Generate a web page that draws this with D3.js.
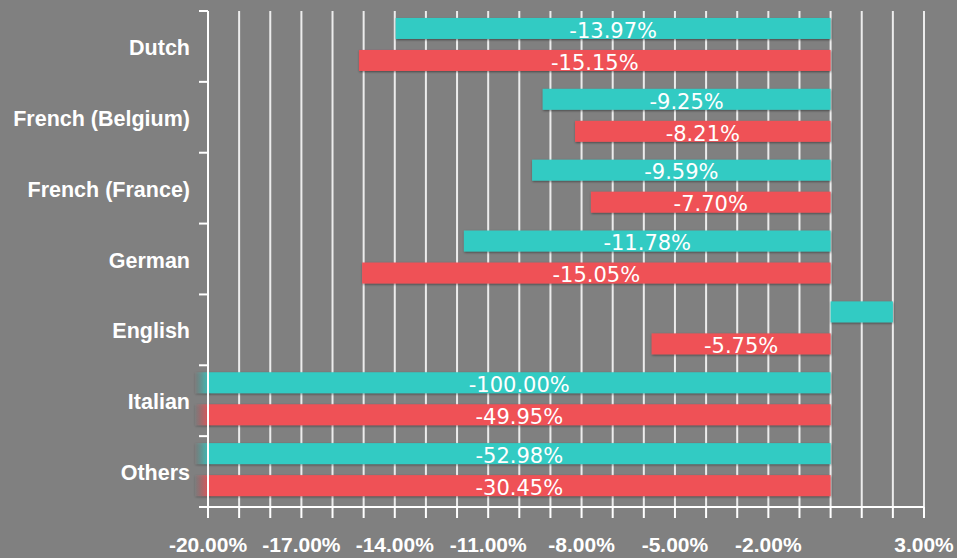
<!DOCTYPE html>
<html>
<head>
<meta charset="utf-8">
<script src="https://cdn.jsdelivr.net/npm/d3@7"></script>
<style>
  html, body { margin: 0; padding: 0; background: #808080; }
  svg { display: block; font-family: "Liberation Sans", Arial, sans-serif; }
</style>
</head>
<body>
<svg id="chart" width="957" height="558"></svg>
<script>
// data
let categories = ["Dutch", "French (Belgium)", "French (France)", "German", "English", "Italian", "Others"];
let series_teal = [-13.97, -9.25, -9.59, -11.78, 2.00, -100.00, -52.98];
let series_red = [-15.15, -8.21, -7.70, -15.05, -5.75, -49.95, -30.45];
let tick_values = [-20, -17, -14, -11, -8, -5, -2, 3];
let x_min = -20, x_max = 3;

let plot_left = 208, plot_right = 924, plot_top = 11, plot_bottom = 507;

let svg = d3.select('#chart');

// drop shadow for the bars
let defs = svg.append('defs');
let f = defs.append('filter').attr('id', 'shadow')
    .attr('x', '-10%').attr('y', '-30%').attr('width', '120%').attr('height', '160%');
f.append('feDropShadow').attr('dx', 0.5).attr('dy', 1).attr('stdDeviation', 1.2)
    .attr('flood-color', '#000').attr('flood-opacity', 0.45);

let colors = ['#33cbc3', '#ef5157'];
colors.forEach((c, i) => {
    let g = defs.append('linearGradient').attr('id', 'fade' + i);
    g.append('stop').attr('offset', '0%').attr('stop-color', '#808080').attr('stop-opacity', 0.6);
    g.append('stop').attr('offset', '100%').attr('stop-color', c).attr('stop-opacity', 0.9);
});

let x = d3.scaleLinear().domain([x_min, x_max]).range([plot_left, plot_right]);
let y = d3.scaleBand().domain(categories).range([plot_top, plot_bottom]).paddingInner(0).paddingOuter(0);
let y_inner = d3.scaleBand().domain([0, 1]).range([0, y.bandwidth()])
    .paddingInner(0.344).paddingOuter(0.279).align(0.39);

// grid lines every 1%
svg.append('g')
    .selectAll('line')
    .data(d3.range(x_min, x_max + 1))
    .join('line')
    .attr('x1', d => x(d)).attr('x2', d => x(d))
    .attr('y1', plot_top).attr('y2', plot_bottom)
    .attr('stroke', '#ececec')
    .attr('stroke-width', 2);

let rows = categories.map((c, i) => ({ cat: c, vals: [series_teal[i], series_red[i]] }));

let groups = svg.append('g')
    .selectAll('g')
    .data(rows)
    .join('g')
    .attr('transform', d => 'translate(0,' + y(d.cat) + ')');

groups.each(function (d) {
    let g = d3.select(this);
    d.vals.forEach((v, i) => {
        let vc = Math.max(x_min, Math.min(x_max, v));
        let x0 = x(Math.min(0, vc)), x1 = x(Math.max(0, vc));
        let yy = y_inner(i), h = y_inner.bandwidth();
        if (v < x_min) {
            // faded stub where the bar runs off the axis
            g.append('rect')
                .attr('x', x(x_min) - 13).attr('y', yy)
                .attr('width', 14).attr('height', h)
                .attr('fill', 'url(#fade' + i + ')')
                .attr('filter', 'url(#shadow)');
        }
        g.append('rect')
            .attr('x', x0).attr('y', yy)
            .attr('width', x1 - x0).attr('height', h)
            .attr('fill', colors[i])
            .attr('filter', 'url(#shadow)');
        if (v < 0) {
            g.append('text')
                .attr('x', (x0 + x1) / 2)
                .attr('y', yy + h / 2)
                .attr('dy', '0.44em')
                .attr('text-anchor', 'middle')
                .attr('fill', '#fff')
                .attr('font-family', '"DejaVu Sans", Verdana, sans-serif')
                .attr('font-size', '21px')
                .text(v.toFixed(2) + '%');
        }
    });
});

// y axis
let yAxis = svg.append('g');
yAxis.append('line')
    .attr('x1', plot_left).attr('x2', plot_left).attr('y1', plot_top).attr('y2', plot_bottom)
    .attr('stroke', '#fff').attr('stroke-width', 2);
yAxis.selectAll('line.tick')
    .data(categories.map(c => y(c)).concat([plot_bottom]))
    .join('line')
    .attr('class', 'tick')
    .attr('x1', plot_left - 9).attr('x2', plot_left)
    .attr('y1', d => d).attr('y2', d => d)
    .attr('stroke', '#fff').attr('stroke-width', 2);
yAxis.selectAll('text')
    .data(categories)
    .join('text')
    .attr('x', 190)
    .attr('y', d => y(d) + y.bandwidth() / 2)
    .attr('dy', '0.4em')
    .attr('text-anchor', 'end')
    .attr('fill', '#fff')
    .attr('font-weight', 'bold')
    .attr('font-size', '21.5px')
    .text(d => d);

// x axis
let xAxis = svg.append('g');
xAxis.append('line')
    .attr('x1', plot_left - 8).attr('x2', plot_right).attr('y1', plot_bottom).attr('y2', plot_bottom)
    .attr('stroke', '#fff').attr('stroke-width', 2);
xAxis.selectAll('line.tick')
    .data(d3.range(x_min, x_max + 1))
    .join('line')
    .attr('class', 'tick')
    .attr('x1', d => x(d)).attr('x2', d => x(d))
    .attr('y1', plot_bottom).attr('y2', plot_bottom + 11)
    .attr('stroke', '#fff').attr('stroke-width', 2);
xAxis.selectAll('text')
    .data(tick_values)
    .join('text')
    .attr('x', d => x(d))
    .attr('y', 552)
    .attr('text-anchor', 'middle')
    .attr('fill', '#fff')
    .attr('font-weight', 'bold')
    .attr('font-size', '21px')
    .text(d => d.toFixed(2) + '%');
</script>
</body>
</html>
